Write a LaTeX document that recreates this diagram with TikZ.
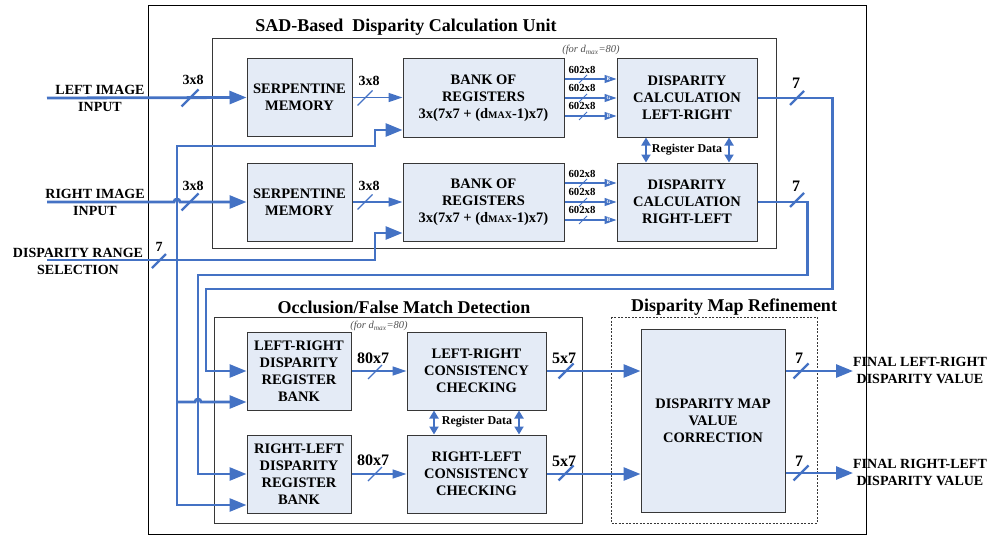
\documentclass[tikz,border=0pt]{standalone}
\usepackage{fontspec}
\setmainfont{Liberation Serif}
\usetikzlibrary{arrows.meta}
\definecolor{wire}{RGB}{68,114,196}
\definecolor{boxfill}{RGB}{228,235,246}
\definecolor{boxline}{RGB}{55,55,55}
\definecolor{notegray}{RGB}{80,80,80}
\tikzset{
  blk/.style={draw=boxline, line width=1pt, fill=boxfill, align=center, inner sep=0pt,
     font=\bfseries\fontsize{14.5}{17}\selectfont},
  thk/.style={draw=wire, line width=2.8pt},
  thn/.style={draw=wire, line width=1.5pt},
  hair/.style={draw=wire, line width=1.1pt},
  bigtip/.style={-{Triangle[length=17pt,width=13pt]}},
  midtip/.style={-{Triangle[length=14pt,width=9pt]}},
  smalltip/.style={-{Triangle[length=12pt,width=8pt]}},
  dbl/.style={draw=wire, line width=2pt, {Triangle[length=8pt,width=9pt]}-{Triangle[length=8pt,width=9pt]}},
  lbl/.style={font=\bfseries\fontsize{14}{17}\selectfont, align=center, inner sep=0pt},
  wlbl/.style={font=\bfseries\fontsize{14}{16}\selectfont, inner sep=0pt},
  blbl/.style={font=\bfseries\fontsize{16}{18}\selectfont, inner sep=0pt},
  slbl/.style={font=\bfseries\fontsize{10.8}{11}\selectfont, inner sep=0pt},
  rlbl/.style={font=\bfseries\fontsize{12}{13}\selectfont, inner sep=0pt},
  ttl/.style={font=\bfseries\fontsize{18}{20}\selectfont, inner sep=0pt},
  note/.style={font=\itshape\fontsize{10.5}{11}\selectfont, text=notegray, inner sep=0pt},
  rgbl/.style={font=\bfseries\fontsize{5}{5}\selectfont, text=white, inner sep=0pt},
}
\newcommand{\wtick}[3]{\draw[draw=wire,line width=#3] ([shift={(-#2,#2)}]#1) -- ([shift={(#2,-#2)}]#1);}
\begin{document}
\begin{tikzpicture}[x=1pt,y=-1pt]
\useasboundingbox (0,0) rectangle (995,535);
% frames
\draw[black, line width=0.8pt] (148,5) rectangle (866,534);
\draw[boxline, line width=1pt] (212,39) rectangle (776,248);
\draw[boxline, line width=1pt] (214,317) rectangle (582,523);
\draw[boxline, line width=0.8pt, dash pattern=on 2pt off 1.5pt] (611,317) rectangle (817,523);
% titles
\node[ttl] (t1) at (406,27) {SAD-Based\ \ Disparity Calculation Unit};
\node[ttl] (t2) at (404,307) {Occlusion/False Match Detection};
\node[ttl] (t3) at (734,307) {Disparity Map Refinement};
\node[note] (n1) at (591,50) {(for d\textsubscript{max}=80)};
\node[note] (n2) at (379,326) {(for d\textsubscript{max}=80)};
% blocks
\node[blk, minimum width=105pt, minimum height=77pt] (sm1) at (299.5,97.5) {SERPENTINE\\MEMORY};
\node[blk, minimum width=105pt, minimum height=78pt] (sm2) at (299.5,202) {SERPENTINE\\MEMORY};
\node[blk, minimum width=161pt, minimum height=78pt] (bk1) at (483.5,98) {BANK OF\\REGISTERS\\3x(7x7 + (d{\fontsize{10}{10}\selectfont MAX}-1)x7)};
\node[blk, minimum width=161pt, minimum height=78pt] (bk2) at (483.5,202) {BANK OF\\REGISTERS\\3x(7x7 + (d{\fontsize{10}{10}\selectfont MAX}-1)x7)};
\node[blk, minimum width=140pt, minimum height=78pt] (dc1) at (687,98) {DISPARITY\\CALCULATION\\LEFT-RIGHT};
\node[blk, minimum width=140pt, minimum height=78pt] (dc2) at (687,202) {DISPARITY\\CALCULATION\\RIGHT-LEFT};
\node[blk, minimum width=104pt, minimum height=78pt] (rb1) at (299,371) {LEFT-RIGHT\\DISPARITY\\REGISTER\\BANK};
\node[blk, minimum width=104pt, minimum height=78pt] (rb2) at (299,474) {RIGHT-LEFT\\DISPARITY\\REGISTER\\BANK};
\node[blk, minimum width=139pt, minimum height=78pt] (cc1) at (476.5,371) {LEFT-RIGHT\\CONSISTENCY\\CHECKING};
\node[blk, minimum width=139pt, minimum height=78pt] (cc2) at (476.5,474) {RIGHT-LEFT\\CONSISTENCY\\CHECKING};
\node[blk, minimum width=144pt, minimum height=183pt] (dm) at (713,420.5) {DISPARITY MAP\\VALUE\\CORRECTION};
% input labels
\node[lbl] (lil) at (100,98) {LEFT IMAGE\\INPUT};
\node[lbl] (ril) at (95,202) {RIGHT IMAGE\\INPUT};
\node[lbl] (drl) at (78,261.5) {DISPARITY RANGE\\SELECTION};
\node[lbl] (ol1) at (920,370) {FINAL LEFT-RIGHT\\DISPARITY VALUE};
\node[lbl] (ol2) at (920,472) {FINAL RIGHT-LEFT\\DISPARITY VALUE};
% free ends
\coordinate (lin) at (47,98);
\coordinate (rin) at (47,202);
\coordinate (drs) at (47,260);
\coordinate (jn) at (177,260);
\coordinate (jn2) at (177,402);
\coordinate (o1) at (853,371);
\coordinate (o2) at (853,473);
% inputs
\draw[thk, bigtip] (lin) -- (sm1.west);
\draw[thk, bigtip] (rin) -- (174,202) arc[start angle=180, end angle=360, radius=3] -- (sm2.west);
\draw[thn, midtip] (sm1.east) -- (sm1.east -| bk1.west);
\draw[thn, midtip] (sm2.east) -- (sm2.east -| bk2.west);
\draw[thk, bigtip] (drs) -- (375,260) |- ([yshift=-31pt]bk2.west);
\draw[thk, bigtip] (jn) |- (375,146) |- ([yshift=-32pt]bk1.west);
\draw[thk, bigtip] (jn) |- ([yshift=-31pt]rb2.west);
\draw[thk, bigtip] (jn2) -- (195,402) arc[start angle=180, end angle=360, radius=3] -- ([yshift=-31pt]rb1.west);
% bank -> disparity
\foreach \b/\d in {bk1/dc1, bk2/dc2}{
  \draw[hair, smalltip] ([yshift=19pt]\b.east) -- ([yshift=19pt]\d.west);
  \draw[hair, smalltip] (\b.east) -- (\d.west);
  \draw[hair, smalltip] ([yshift=-18pt]\b.east) -- ([yshift=-18pt]\d.west);
  \node[rgbl] at ([xshift=-8pt,yshift=19pt]\d.west) {R};
  \node[rgbl] at ([xshift=-8pt]\d.west) {G};
  \node[rgbl] at ([xshift=-8pt,yshift=-18pt]\d.west) {B};
}
\foreach \y in {79,98,116,183,202,220}{
  \wtick{583,\y}{4}{0.8pt}
}
\foreach \y in {70,88,106,174,192,210}{
  \node[slbl] at (582,\y) {602x8};
}
% register data
\draw[dbl] ([xshift=-41pt]dc1.south) -- ([xshift=-41pt]dc2.north);
\draw[dbl] ([xshift=42pt]dc1.south) -- ([xshift=42pt]dc2.north);
\node[rlbl] (rd1) at (687,150) {Register Data};
\draw[dbl] ([xshift=-42.5pt]cc1.south) -- ([xshift=-42.5pt]cc2.north);
\draw[dbl] ([xshift=42.5pt]cc1.south) -- ([xshift=42.5pt]cc2.north);
\node[rlbl] (rd2) at (477,422) {Register Data};
% disparity outputs feedback
\draw[thk, bigtip] (dc1.east) -- ++(75,0) |- (206,289) |- (rb1.west);
\draw[thk, bigtip] (dc2.east) -- ++(50,0) |- (198,275) |- (rb2.west);
% register bank -> consistency
\draw[thn, midtip] (rb1.east) -- (rb1.east -| cc1.west);
\draw[thn, midtip] (rb2.east) -- (rb2.east -| cc2.west);
% consistency -> map
\draw[thk, bigtip] (cc1.east) -- (cc1.east -| dm.west);
\draw[thk, bigtip] (cc2.east) -- (cc2.east -| dm.west);
% outputs
\draw[thk, bigtip] (dm.east |- o1) -- (o1);
\draw[thk, bigtip] (dm.east |- o2) -- (o2);
% ticks
\wtick{190,98}{8.5}{2.4pt}
\wtick{190,202}{8.5}{2.4pt}
\wtick{159,261}{7}{2.4pt}
\wtick{365,98}{7.5}{1.2pt}
\wtick{365,202}{7.5}{1.2pt}
\wtick{797,98}{7}{2.4pt}
\wtick{797,200}{7}{2.4pt}
\wtick{375,372}{7}{1.2pt}
\wtick{375,474}{7}{1.2pt}
\wtick{566,371}{7.5}{2.4pt}
\wtick{566,473}{7.5}{2.4pt}
\wtick{801,371}{7.5}{2.4pt}
\wtick{801,473}{7.5}{2.4pt}
% width labels
\node[wlbl] at (193,80) {3x8};
\node[wlbl] at (193,186) {3x8};
\node[wlbl] at (369,81) {3x8};
\node[wlbl] at (369,186) {3x8};
\node[wlbl] at (159,247) {7};
\node[blbl] at (796,83) {7};
\node[blbl] at (796,186) {7};
\node[blbl] at (373,358) {80x7};
\node[blbl] at (373,460) {80x7};
\node[blbl] at (564,358) {5x7};
\node[blbl] at (564,461) {5x7};
\node[blbl] at (799,358) {7};
\node[blbl] at (799,461) {7};
\end{tikzpicture}
\end{document}
